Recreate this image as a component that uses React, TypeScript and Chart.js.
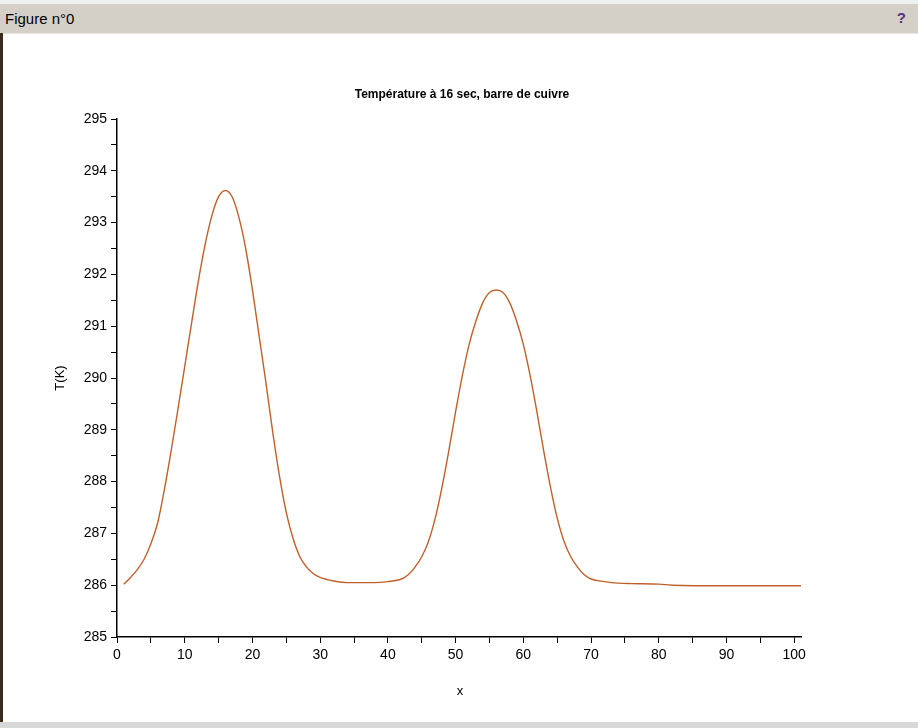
import { useEffect, useRef } from 'react';
import { Chart, registerables } from 'chart.js';

Chart.register(...registerables);

const xs = [1, 2, 3, 4, 5, 6, 7, 8, 9, 10, 11, 12, 13, 14, 15, 16, 17, 18, 19, 20, 21, 22, 23, 24, 25, 26, 27, 28, 29, 30, 32, 34, 36, 38, 40, 42, 43, 44, 45, 46, 47, 48, 49, 50, 51, 52, 53, 54, 55, 56, 57, 58, 59, 60, 61, 62, 63, 64, 65, 66, 67, 68, 69, 70, 72, 74, 76, 80, 82, 90, 101];
const temps = [286.02, 286.15, 286.3, 286.5, 286.8, 287.2, 287.85, 288.6, 289.4, 290.22, 291.05, 291.86, 292.57, 293.13, 293.5, 293.62, 293.5, 293.1, 292.5, 291.7, 290.8, 289.9, 288.95, 288.1, 287.4, 286.9, 286.55, 286.35, 286.22, 286.15, 286.08, 286.05, 286.05, 286.05, 286.07, 286.12, 286.2, 286.35, 286.55, 286.85, 287.3, 287.9, 288.6, 289.35, 290.05, 290.65, 291.1, 291.45, 291.65, 291.7, 291.65, 291.45, 291.1, 290.65, 290.05, 289.35, 288.6, 287.9, 287.3, 286.85, 286.55, 286.35, 286.2, 286.12, 286.07, 286.04, 286.03, 286.02, 286.0, 285.99, 285.99];
const xTickValues = [0, 5, 10, 15, 20, 25, 30, 35, 40, 45, 50, 55, 60, 65, 70, 75, 80, 85, 90, 95, 100];

const titleText = 'Température à 16 sec, barre de cuivre';
const yLabel = 'T(K)';
const xLabel = 'x';

const labelsPlugin = {
  id: 'scilabLabels',
  afterDraw(chart) {
    const ctx = chart.ctx;
    ctx.save();
    ctx.fillStyle = '#000';
    ctx.textAlign = 'center';
    ctx.textBaseline = 'middle';
    ctx.font = 'bold 12px "Liberation Sans", Arial, sans-serif';
    ctx.fillText(titleText, 462, 62);
    ctx.font = '13px "Liberation Sans", Arial, sans-serif';
    ctx.fillText(xLabel, 460, 658);
    ctx.translate(60, 345);
    ctx.rotate(-Math.PI / 2);
    ctx.fillText(yLabel, 0, 0);
    ctx.restore();
  },
};

const App = () => {
  const chartRef = useRef(null);
  const chartInstanceRef = useRef(null);

  useEffect(() => {
    const ctx = chartRef.current.getContext('2d');
    if (chartInstanceRef.current) chartInstanceRef.current.destroy();

    const tickFont = { family: '"Liberation Sans", Arial, sans-serif', size: 14 };

    chartInstanceRef.current = new Chart(ctx, {
      type: 'line',
      data: {
        datasets: [{
          data: xs.map((x, i) => ({ x, y: temps[i] })),
          borderColor: '#c0602a',
          borderWidth: 1.4,
          pointRadius: 0,
          cubicInterpolationMode: 'monotone',
          fill: false,
        }],
      },
      plugins: [labelsPlugin],
      options: {
        animation: false,
        responsive: false,
        layout: { padding: { top: 86, right: 117, left: 0, bottom: 0 } },
        plugins: { legend: { display: false }, tooltip: { enabled: false }, title: { display: false } },
        scales: {
          x: {
            type: 'linear',
            min: 0,
            max: 101,
            afterBuildTicks: (axis) => { axis.ticks = xTickValues.map((value) => ({ value })); },
            afterFit: (axis) => { axis.height = 91; },
            ticks: {
              autoSkip: false,
              maxRotation: 0,
              color: '#000',
              font: tickFont,
              padding: 4,
              callback: (v) => (v % 10 === 0 ? String(v) : ''),
            },
            grid: { color: 'rgba(0,0,0,0)', tickColor: '#000', tickLength: 6 },
            border: { display: true, color: '#000', width: 1.5 },
          },
          y: {
            min: 285,
            max: 295,
            afterFit: (axis) => { axis.width = 117; },
            ticks: {
              stepSize: 0.5,
              autoSkip: false,
              color: '#000',
              font: tickFont,
              padding: 4,
              callback: (v) => (v % 1 === 0 ? String(v) : ''),
            },
            grid: { color: 'rgba(0,0,0,0)', tickColor: '#000', tickLength: 6 },
            border: { display: true, color: '#000', width: 1.5 },
          },
        },
      },
    });

    return () => {
      if (chartInstanceRef.current) chartInstanceRef.current.destroy();
    };
  }, []);

  return (
    <div style={{ position: 'fixed', left: 0, top: 0, width: 918, height: 728, background: '#fff', overflow: 'hidden' }}>
      <div style={{ position: 'absolute', left: 0, top: 0, width: 918, height: 4, background: '#eef0f2' }} />
      <div style={{ position: 'absolute', left: 0, top: 4, width: 918, height: 29, background: '#d4d0c8', borderBottom: '1px solid #e8e6e0', fontFamily: 'Arial, "Liberation Sans", sans-serif', fontSize: 15 }}>
        <span style={{ position: 'absolute', left: 5, top: 6 }}>Figure n°0</span>
        <span style={{ position: 'absolute', right: 12, top: 5, color: '#5a2d82', fontWeight: 'bold' }}>?</span>
      </div>
      <div style={{ position: 'absolute', left: 0, top: 33, width: 3, height: 695, background: '#3b2a1e' }} />
      <canvas ref={chartRef} width={918} height={695} style={{ position: 'absolute', left: 0, top: 33 }}></canvas>
      <div style={{ position: 'absolute', left: 0, top: 722, width: 918, height: 6, background: '#d8d8d8' }} />
    </div>
  );
};

export default App;
